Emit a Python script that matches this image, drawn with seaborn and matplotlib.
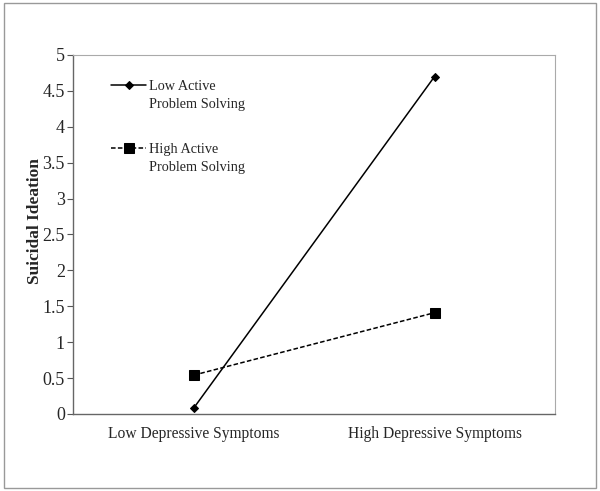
import numpy as np
import pandas as pd
import matplotlib.pyplot as plt
import seaborn as sns
from matplotlib.patches import Rectangle

# values
conditions = ["Low Depressive Symptoms", "High Depressive Symptoms"]
low_active = [0.08, 4.7]
high_active = [0.54, 1.41]
series_names = ["Low Active\nProblem Solving", "High Active\nProblem Solving"]

df = pd.DataFrame({
    "condition": conditions * 2,
    "group": [series_names[0]] * 2 + [series_names[1]] * 2,
    "value": low_active + high_active,
})

sns.set_style("white")
plt.rcParams["font.family"] = ["Liberation Serif", "DejaVu Serif"]

fig = plt.figure(figsize=(6, 4.91), dpi=100)
ax = fig.add_axes([0.122, 0.157, 0.803, 0.731])

sns.lineplot(data=df, x="condition", y="value", hue="group", style="group",
             palette=["black", "black"], markers=["D", "s"],
             dashes=[(None, None), (3, 1.5)], markersize=5,
             markeredgecolor="black", linewidth=1.1, ax=ax, legend=False)
lines = ax.get_lines()[:2]
# diamond a bit smaller than the square
for line, ms in zip(lines, [4, 6.5]):
    line.set_markersize(ms)

ax.set_xlim(-0.5, 1.5)
ax.set_ylim(0, 5)
ax.set_yticks(np.arange(0, 5.01, 0.5))
ax.set_yticklabels(["0", "0.5", "1", "1.5", "2", "2.5", "3", "3.5", "4", "4.5", "5"])
ax.set_xticks([0, 1])
ax.set_xticklabels(conditions)
ax.set_xticks([-0.5, 0.5, 1.5], minor=True)
ax.tick_params(axis="x", which="major", length=0, pad=9, labelsize=11.2)
ax.tick_params(axis="x", which="minor", length=4, direction="in", color="#888888")
ax.tick_params(axis="y", length=4, direction="out", color="#555555", left=True,
               labelsize=13, pad=2)
ax.set_xlabel("")
ax.set_ylabel("Suicidal Ideation", fontweight="bold", fontsize=12.5)
ax.yaxis.set_label_coords(-0.062, 0.538)

for side in ["top", "right"]:
    ax.spines[side].set_color("#aaaaaa")
    ax.spines[side].set_linewidth(0.8)
for side in ["left", "bottom"]:
    ax.spines[side].set_color("#666666")
    ax.spines[side].set_linewidth(1.0)

leg = ax.legend(lines, series_names, loc="upper left", bbox_to_anchor=(0.063, 0.95),
                frameon=False, fontsize=10.3, handlelength=2.5, handletextpad=0.15,
                labelspacing=2.3, borderpad=0)
for t in leg.get_texts():
    t.set_linespacing(1.45)
# put the handle level with the first line of its label
for h in leg.get_lines():
    h.set_ydata(np.asarray(h.get_ydata()) + 7.5)

fig.patches.append(Rectangle((0.006, 0.006), 0.988, 0.988, transform=fig.transFigure,
                             fill=False, edgecolor="#999999", linewidth=1.0))

fig.savefig("out.png", dpi=100)
